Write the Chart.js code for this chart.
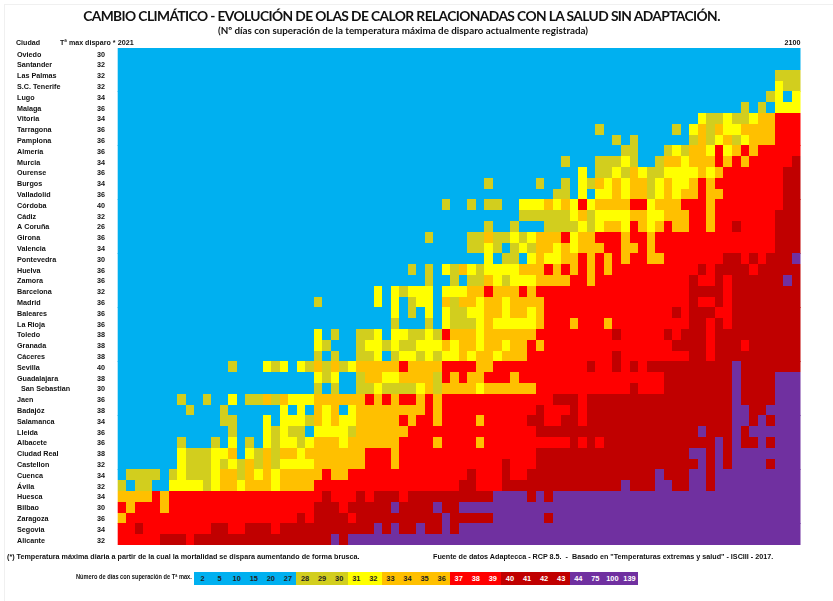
<!DOCTYPE html>
<html>
<head>
<meta charset="utf-8">
<script src="https://cdn.jsdelivr.net/npm/chart.js@4/dist/chart.umd.min.js"></script>
<style>
    body { margin: 0; background: #fff; width: 833px; height: 601px; overflow: hidden; position: relative; }
    canvas { position: absolute; left: 0; top: 0; }
    .txt { position: absolute; white-space: pre; color: #111; font-family: "Liberation Sans", sans-serif; font-weight: bold; z-index: 2; }
    #main-title { left: 0; width: 803px; top: 7px; text-align: center; font: bold 13.8px Lato, sans-serif; letter-spacing: -0.6px; }
    #sub-title { left: 0; width: 806px; top: 24px; text-align: center; font: bold 9.8px Lato, sans-serif; }
    #legend-label { left: 76px; top: 573px; font-size: 7px; transform: scaleX(0.81); transform-origin: left center; }
    #legend-row { position: absolute; left: 194px; top: 572px; display: flex; z-index: 2; }
    #legend-row div { width: 17.08px; height: 13px; text-align: center; font: bold 7.4px/13px "Liberation Sans", sans-serif; }
    #frame { position: absolute; left: 4px; top: 4px; width: 840px; height: 610px; border: 1px solid #f0f0f0; }
</style>
</head>
<body>
<div id="frame"></div>
<div class="txt" id="main-title">CAMBIO CLIMÁTICO - EVOLUCIÓN DE OLAS DE CALOR RELACIONADAS CON LA SALUD SIN ADAPTACIÓN.</div>
<div class="txt" id="sub-title">(Nº días con superación de la temperatura máxima de disparo actualmente registrada)</div>
<div class="txt" style="left:16px;top:39px;font-size:7.1px">Ciudad</div>
<div class="txt" style="left:60px;top:39px;font-size:7.1px">Tª max disparo *</div>
<div class="txt" style="left:7px;top:552px;font-size:7.2px">(*) Temperatura máxima diaria a partir de la cual la mortalidad se dispara aumentando de forma brusca.</div>
<div class="txt" style="left:433px;top:552px;font-size:7.2px">Fuente de datos Adaptecca - RCP 8.5.  -  Basado en "Temperaturas extremas y salud" - ISCIII - 2017.</div>
<div class="txt" id="legend-label">Número de días con superación de Tª max.</div>
<div id="legend-row"></div>
<canvas id="heatmap" width="833" height="601"></canvas>
<script>
const cities = ["Oviedo", "Santander", "Las Palmas", "S.C. Tenerife", "Lugo", "Malaga", "Vitoria", "Tarragona", "Pamplona", "Almería", "Murcia", "Ourense", "Burgos", "Valladolid", "Córdoba", "Cádiz", "A Coruña", "Girona", "Valencia", "Pontevedra", "Huelva", "Zamora", "Barcelona", "Madrid", "Baleares", "La Rioja", "Toledo", "Granada", "Cáceres", "Sevilla", "Guadalajara", "  San Sebastian", "Jaen", "Badajóz", "Salamanca", "Lleida", "Albacete", "Ciudad Real", "Castellon", "Cuenca", "Ávila", "Huesca", "Bilbao", "Zaragoza", "Segovia", "Alicante"];
const thresholds = [30, 32, 32, 32, 34, 36, 34, 36, 36, 36, 34, 36, 34, 36, 40, 32, 26, 36, 34, 30, 36, 36, 32, 36, 36, 36, 38, 38, 38, 40, 38, 30, 36, 38, 34, 36, 36, 38, 32, 34, 32, 34, 30, 36, 34, 32];
const firstYear = 2021;
const lastYear = 2100;

const legendValues = [2, 5, 10, 15, 20, 27, 28, 29, 30, 31, 32, 33, 34, 35, 36, 37, 38, 39, 40, 41, 42, 43, 44, 75, 100, 139];
const legendColors = ["#00B0F0", "#00B0F0", "#00B0F0", "#00B0F0", "#00B0F0", "#00B0F0", "#D2CE1E", "#D2CE1E", "#D2CE1E", "#FFFF00", "#FFFF00", "#FFC000", "#FFC000", "#FFC000", "#FFC000", "#FF0000", "#FF0000", "#FF0000", "#C00000", "#C00000", "#C00000", "#C00000", "#7030A0", "#7030A0", "#7030A0", "#7030A0"];
const legendTextColors = ["#222", "#222", "#222", "#222", "#222", "#222", "#222", "#222", "#222", "#222", "#222", "#222", "#222", "#222", "#222", "#fff", "#fff", "#fff", "#fff", "#fff", "#fff", "#fff", "#fff", "#fff", "#fff", "#fff"];

// The picture only shows colour bands, so each band gets one day count
const bandDays = { b: 10, o: 29, y: 31, a: 34, r: 38, d: 41, p: 75 };

// One row per city, year runs: band letter + number of years
const dayRuns = [
    "b80",
    "b80",
    "b77 o3",
    "b77 y1 o2",
    "b76 o1 y1 b1 y1",
    "b73 o1 b1 o1 b1 y3",
    "b68 y1 o2 y1 o2 y1 a2 r3",
    "b56 o1 b8 o1 b1 y1 a1 o1 a1 y2 a4 r3",
    "b58 o1 b1 o1 b6 o1 a1 o1 y1 a1 o1 y1 a3 r3",
    "b59 o2 b3 o1 y1 o1 a2 y1 r1 y1 a1 r1 a1 r5",
    "b52 o1 b3 o3 y1 o1 b2 o1 a2 y1 a3 r1 a1 r1 a1 r5 d1",
    "b54 y1 b1 o2 y1 o1 a1 y1 o2 y4 a1 y1 a1 r7 d2",
    "b43 o1 b5 o1 b2 o1 b1 y1 o1 a1 y1 a1 y1 a2 o1 y1 a1 y2 a1 r1 a1 r8 d2",
    "b51 o2 b1 y1 b1 y2 a1 y1 a2 o1 y1 a1 y1 a2 r1 a2 r7 d2",
    "b38 o1 b2 o1 b1 o2 b2 y3 a1 y1 a1 y1 r1 y1 a4 r2 y1 a3 r3 a1 r8 d2",
    "b47 o6 y1 a1 o1 y4 a2 y2 a3 r2 a1 r7 d3",
    "b43 o1 b2 o1 b3 o4 y1 o1 y1 a2 y1 r1 a1 y1 a1 r1 a2 r2 a1 r2 d1 r4 d3",
    "b36 o1 b4 o2 a1 o2 y1 o1 y1 a3 r1 y1 a2 r3 a1 r2 a1 r14 d3",
    "b41 o2 y1 o1 b1 o1 y1 o1 a2 y1 a1 y1 a3 r2 a2 r1 a1 r14 d3",
    "b43 y1 b1 o2 b1 y1 a1 y2 a2 r1 a1 r1 a1 r1 a1 r2 a2 r7 d2 r1 d1 r1 d3 p1",
    "b34 o1 b1 o1 b1 y1 o1 a1 y1 o1 y4 a3 r1 a1 r1 a1 r1 a1 r1 a1 r10 d1 r1 d4 r1 d5",
    "b36 o1 b2 o1 b1 o2 a1 y1 o1 y3 a4 r2 a1 r11 d1 r2 d1 r1 d6 p1 d1",
    "b30 y1 b1 y1 o1 y3 b1 y3 a2 r1 a3 r1 a1 r18 d4 r1 d8",
    "b23 o1 b6 y1 b1 y1 b1 o1 y2 b1 a1 o1 a2 y1 a2 y1 a4 r17 d1 r2 d1 r1 d8",
    "b32 y1 b1 o1 b1 y1 b1 y1 o2 y2 a2 y1 a2 y1 a1 r15 d1 r1 d3 r2 d8",
    "b32 o1 b3 o1 b1 y1 o3 y1 a1 y5 a1 r3 a1 r3 a1 r9 d2 r1 d1 r1 d8",
    "b23 y1 b1 o1 b2 o2 y1 b1 y2 o2 y1 o1 r1 a3 y1 a6 r9 d1 r5 d1 r1 d3 r1 d10",
    "b23 y1 o1 b3 o1 y2 o1 y1 o2 y3 a1 y1 a2 y1 a2 y1 a2 r1 a1 r15 d4 r1 d3 r1 d6",
    "b23 o1 b1 o1 b2 o2 y1 b1 o1 y2 o1 y1 o1 y2 a1 y1 a2 y1 a3 r10 d1 r8 d2 r1 d10",
    "b13 o1 b3 y1 o1 y1 b1 y1 o1 a1 o1 a1 o1 y1 a5 r1 a4 r4 a2 r11 d1 r2 d1 r1 d1 r1 d10 p1 d7",
    "b23 y1 o1 y1 b2 o1 a2 y2 a4 o1 r1 a1 r1 a2 r3 a1 r17 d8 p1 d4 p3",
    "b23 o1 b1 o1 b2 o2 y1 o4 y1 a1 o1 a4 y1 a6 r11 d1 r3 d8 p1 d4 p3",
    "b7 o1 b2 o1 b2 y1 b1 o2 a1 o1 a1 y3 a6 r1 a1 r1 a1 r2 a1 r1 a1 r13 d3 r1 d17 p1 d4 p3",
    "b8 o1 b3 o1 b6 y1 b1 y1 b1 a1 y1 a1 b1 y1 a8 r1 a1 r11 d1 r3 d1 r1 d17 p2 d2 p4",
    "b12 o2 b3 y1 b1 y3 o1 a1 y1 a1 y2 a5 r1 a1 r2 a1 r4 a1 r5 d2 r2 d2 r1 d17 p2 d1 p1 d1 p3",
    "b13 o1 b3 y1 o1 y1 o2 b1 y4 o1 a6 r15 d19 p1 d3 p1 d1 p6",
    "b7 o1 b3 o1 b1 y1 b1 o1 b1 y1 o1 y2 o1 y1 a3 y1 a6 r4 a1 r4 a1 r10 d1 r1 d1 r1 d13 p1 d1 p1 d2 p1 d1 p3",
    "b7 y1 o3 y2 a1 b1 y1 o1 a1 o1 a2 y1 a7 r3 a1 r16 d18 p2 d1 p1 d1 p8",
    "b7 y1 o3 y1 o1 y1 o1 a1 o1 a1 o1 y4 a6 r3 a1 r12 d1 r3 d19 p1 d1 p1 d1 p4 d1 p3",
    "b1 o4 b1 o1 y1 o3 y1 a2 o1 a1 y1 a1 y1 a5 r1 a2 r14 d1 r3 d1 r2 d15 p1 d3 p2 d1 p10",
    "o1 b1 o2 b2 y4 o1 y1 a2 y1 a3 y1 a4 r17 d2 r3 d14 p1 d3 p2 d2 p2 d1 p10",
    "a4 r1 a1 r18 d1 r3 d1 r1 d3 r1 d10 p4 d1 p1 d1 p29",
    "r1 a1 r3 a1 r17 d3 r1 d5 p1 d4 p1 d2 p40",
    "a1 r20 d1 r1 d4 r1 d10 p1 d5 p6 d1 p29",
    "r2 d1 r8 d2 r2 d3 r1 d11 p1 d1 p1 d2 p1 d2 p1 d1 p40",
    "r5 d3 r1 d16 p1 d1 p53"
];

// Unpack the runs into one point per city and year
const cells = [];
dayRuns.forEach((runs, row) => {
    let year = firstYear;
    runs.split(" ").forEach(run => {
        const days = bandDays[run[0]];
        const count = parseInt(run.slice(1));
        for (let i = 0; i < count; i++) {
            cells.push({ x: year, y: cities[row], v: days });
            year++;
        }
    });
});

function colorForDays(days) {
    return legendColors[legendValues.indexOf(days)];
}

// Chart.js draws canvas point styles at their own size, so one tile per colour is enough
const tiles = {};
function tileFor(color) {
    if (!tiles[color]) {
        const tile = document.createElement("canvas");
        tile.width = 9;
        tile.height = 11;
        const tileCtx = tile.getContext("2d");
        tileCtx.fillStyle = color;
        tileCtx.fillRect(0, 0, 9, 11);
        tiles[color] = tile;
    }
    return tiles[color];
}

const labelFont = { family: "'Liberation Sans', sans-serif", size: 7.2, weight: "bold" };

new Chart(document.getElementById("heatmap").getContext("2d"), {
    type: "scatter",
    data: {
        datasets: [{
            data: cells,
            pointRadius: 5,
            pointStyle: ctx => tileFor(colorForDays(ctx.raw.v))
        }]
    },
    options: {
        responsive: false,
        animation: false,
        events: [],
        layout: { padding: { left: 17, right: 32.5, top: 36.3, bottom: 56 } },
        plugins: { legend: { display: false }, tooltip: { enabled: false } },
        scales: {
            x: {
                type: "linear",
                position: "top",
                min: firstYear - 0.5,
                max: lastYear + 0.5,
                grid: { display: false, drawTicks: false },
                border: { display: false },
                afterBuildTicks: scale => {
                    scale.ticks = [{ value: scale.min }, { value: scale.max }];
                },
                afterFit: scale => { scale.height = 12; },
                ticks: {
                    autoSkip: false,
                    maxRotation: 0,
                    align: "inner",
                    padding: 1,
                    color: "#111",
                    font: labelFont,
                    callback: value => (value < 2050 ? firstYear : lastYear)
                }
            },
            y: {
                type: "category",
                position: "left",
                weight: 2,
                offset: true,
                grid: { display: false, drawTicks: false },
                border: { display: false },
                afterFit: scale => { scale.width = 60; },
                ticks: { autoSkip: false, crossAlign: "far", padding: 0, labelOffset: 1, color: "#111", font: labelFont }
            },
            yThreshold: {
                axis: "y",
                type: "category",
                labels: thresholds.map(String),
                position: "left",
                weight: 1,
                offset: true,
                grid: { display: false, drawTicks: false },
                border: { display: false },
                afterFit: scale => { scale.width = 40.7; },
                ticks: { autoSkip: false, padding: 12.7, labelOffset: 1, color: "#111", font: labelFont }
            }
        }
    }
});

// Legend strip under the chart
const legendRow = document.getElementById("legend-row");
legendValues.forEach((value, i) => {
    const swatch = document.createElement("div");
    swatch.textContent = value;
    swatch.style.background = legendColors[i];
    swatch.style.color = legendTextColors[i];
    legendRow.appendChild(swatch);
});
</script>
</body>
</html>
